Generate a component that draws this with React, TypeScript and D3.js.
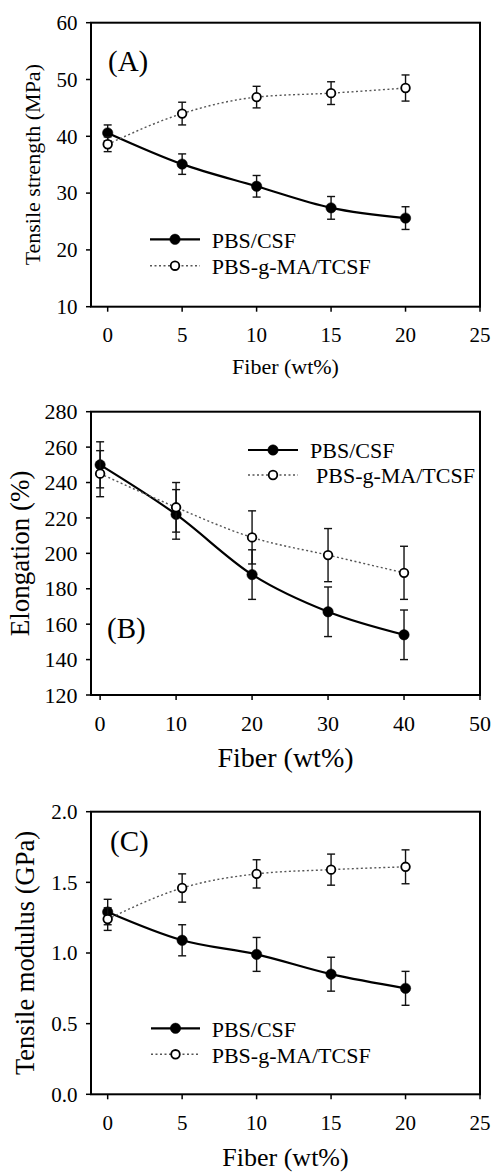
import React, { useEffect, useRef } from "react";
import * as d3 from "d3";

// fiber loadings (wt%)
const fiberAC = [0, 5, 10, 15, 20];
const fiberB = [0, 10, 20, 30, 40];

const seriesNames = ["PBS/CSF", "PBS-g-MA/TCSF"];

// (A) tensile strength, MPa
const strengthCSF = [40.6, 35.1, 31.2, 27.4, 25.6];
const strengthCSFErr = [1.4, 1.8, 1.9, 2.0, 2.0];
const strengthTCSF = [38.6, 44.0, 46.9, 47.6, 48.5];
const strengthTCSFErr = [1.3, 2.0, 1.9, 2.0, 2.3];

// (B) elongation, %
const elongCSF = [250, 222, 188, 167, 154];
const elongCSFErr = [13, 14, 14, 14, 14];
const elongTCSF = [245, 226, 209, 199, 189];
const elongTCSFErr = [13, 14, 15, 15, 15];

// (C) tensile modulus, GPa
const modulusCSF = [1.29, 1.09, 0.99, 0.85, 0.75];
const modulusCSFErr = [0.09, 0.11, 0.12, 0.12, 0.12];
const modulusTCSF = [1.24, 1.46, 1.56, 1.59, 1.61];
const modulusTCSFErr = [0.08, 0.1, 0.1, 0.11, 0.12];

const xTicksAC = [0, 5, 10, 15, 20, 25];
const xTicksB = [0, 10, 20, 30, 40, 50];
const yTicksA = [10, 20, 30, 40, 50, 60];
const yTicksB = [120, 140, 160, 180, 200, 220, 240, 260, 280];
const yTicksC = [0, 0.5, 1.0, 1.5, 2.0];

const FONT = "'Liberation Serif', 'Times New Roman', serif";

const App = () => {
  const ref = useRef();

  useEffect(() => {
    const svg = d3.select(ref.current);
    svg.selectAll("*").remove();

    const left = 91;
    const right = 480;

    const panels = [
      {
        top: 22.7, bottom: 306.7, xDomain: [-1.12, 25], yDomain: [10, 60],
        xTicks: xTicksAC, yTicks: yTicksA, fmt: d3.format("d"), tickFont: 21,
        x: fiberAC, s1: strengthCSF, e1: strengthCSFErr, s2: strengthTCSF, e2: strengthTCSFErr,
        tag: "(A)", tagX: 108, tagY: 71,
        yTitle: "Tensile strength (MPa)", yTitleSize: 22, yTitleX: 40,
        xTitleSize: 22, xTitleY: 374,
        legRows: [239.3, 265.7], legX0: 150, legX1: 200, legText: [211.7, 211.7], legFont: 22,
      },
      {
        top: 411.7, bottom: 695, xDomain: [-1.2, 50], yDomain: [120, 280],
        xTicks: xTicksB, yTicks: yTicksB, fmt: d3.format("d"), tickFont: 22,
        x: fiberB, s1: elongCSF, e1: elongCSFErr, s2: elongTCSF, e2: elongTCSFErr,
        tag: "(B)", tagX: 107, tagY: 638,
        yTitle: "Elongation (%)", yTitleSize: 27, yTitleX: 29,
        xTitleSize: 28, xTitleY: 767,
        legRows: [450, 475], legX0: 248, legX1: 298, legText: [310, 316], legFont: 22,
      },
      {
        top: 811.7, bottom: 1094.3, xDomain: [-1.12, 25], yDomain: [0, 2],
        xTicks: xTicksAC, yTicks: yTicksC, fmt: d3.format(".1f"), tickFont: 21,
        x: fiberAC, s1: modulusCSF, e1: modulusCSFErr, s2: modulusTCSF, e2: modulusTCSFErr,
        tag: "(C)", tagX: 110, tagY: 851,
        yTitle: "Tensile modulus (GPa)", yTitleSize: 26.5, yTitleX: 34,
        xTitleSize: 26, xTitleY: 1166,
        legRows: [1028.3, 1054.3], legX0: 151, legX1: 200, legText: [211.7, 211.7], legFont: 22,
      },
    ];

    panels.forEach((p) => {
      const x = d3.scaleLinear().domain(p.xDomain).range([left, right]);
      const y = d3.scaleLinear().domain(p.yDomain).range([p.bottom, p.top]);
      const g = svg.append("g");

      // ticks
      g.selectAll(".xt")
        .data(p.xTicks)
        .join("line")
        .attr("x1", (d) => x(d))
        .attr("x2", (d) => x(d))
        .attr("y1", p.bottom)
        .attr("y2", p.bottom + 5)
        .attr("stroke", "#000")
        .attr("stroke-width", 1.5);
      g.selectAll(".xl")
        .data(p.xTicks)
        .join("text")
        .attr("x", (d) => x(d))
        .attr("y", p.bottom + 35.5)
        .attr("text-anchor", "middle")
        .style("font-family", FONT)
        .style("font-size", `${p.tickFont}px`)
        .text((d) => d);
      g.selectAll(".yt")
        .data(p.yTicks)
        .join("line")
        .attr("x1", left - 5)
        .attr("x2", left)
        .attr("y1", (d) => y(d))
        .attr("y2", (d) => y(d))
        .attr("stroke", "#000")
        .attr("stroke-width", 1.5);
      g.selectAll(".yl")
        .data(p.yTicks)
        .join("text")
        .attr("x", 77.5)
        .attr("y", (d) => y(d))
        .attr("dy", "0.35em")
        .attr("text-anchor", "end")
        .style("font-family", FONT)
        .style("font-size", `${p.tickFont}px`)
        .text((d) => p.fmt(d));

      // frame
      g.append("rect")
        .attr("x", left)
        .attr("y", p.top)
        .attr("width", right - left)
        .attr("height", p.bottom - p.top)
        .attr("fill", "none")
        .attr("stroke", "#000")
        .attr("stroke-width", 2);

      // titles
      g.append("text")
        .attr("transform", `translate(${p.yTitleX},${(p.top + p.bottom) / 2}) rotate(-90)`)
        .attr("text-anchor", "middle")
        .style("font-family", FONT)
        .style("font-size", `${p.yTitleSize}px`)
        .text(p.yTitle);
      g.append("text")
        .attr("x", (left + right) / 2)
        .attr("y", p.xTitleY)
        .attr("text-anchor", "middle")
        .style("font-family", FONT)
        .style("font-size", `${p.xTitleSize}px`)
        .text("Fiber (wt%)");
      g.append("text")
        .attr("x", p.tagX)
        .attr("y", p.tagY)
        .style("font-family", FONT)
        .style("font-size", "29px")
        .text(p.tag);

      const line = d3
        .line()
        .x((d) => x(d[0]))
        .y((d) => y(d[1]))
        .curve(d3.curveMonotoneX);

      const series = [
        { vals: p.s1, errs: p.e1, solid: true },
        { vals: p.s2, errs: p.e2, solid: false },
      ];

      // connecting lines
      series.forEach((s) => {
        g.append("path")
          .attr("d", line(p.x.map((v, i) => [v, s.vals[i]])))
          .attr("fill", "none")
          .attr("stroke", s.solid ? "#000" : "#555")
          .attr("stroke-width", s.solid ? 2.2 : 1.4)
          .attr("stroke-dasharray", s.solid ? null : "2,2.5");
      });

      // error bars and markers
      series.forEach((s) => {
        const pts = p.x.map((v, i) => ({ x: v, y: s.vals[i], e: s.errs[i] }));
        const eb = g.append("g").attr("stroke", "#111").attr("stroke-width", 1.4);
        pts.forEach((d) => {
          eb.append("line")
            .attr("x1", x(d.x)).attr("x2", x(d.x))
            .attr("y1", y(d.y - d.e)).attr("y2", y(d.y + d.e));
          [d.y - d.e, d.y + d.e].forEach((v) => {
            eb.append("line")
              .attr("x1", x(d.x) - 4).attr("x2", x(d.x) + 4)
              .attr("y1", y(v)).attr("y2", y(v));
          });
        });
        g.selectAll(null)
          .data(pts)
          .join("circle")
          .attr("cx", (d) => x(d.x))
          .attr("cy", (d) => y(d.y))
          .attr("r", s.solid ? 5.2 : 4.3)
          .attr("fill", s.solid ? "#000" : "#fff")
          .attr("stroke", "#000")
          .attr("stroke-width", s.solid ? 0.5 : 1.8);
      });

      // legend
      series.forEach((s, i) => {
        const ry = p.legRows[i];
        g.append("line")
          .attr("x1", p.legX0)
          .attr("x2", p.legX1)
          .attr("y1", ry)
          .attr("y2", ry)
          .attr("stroke", s.solid ? "#000" : "#555")
          .attr("stroke-width", s.solid ? 2.2 : 1.4)
          .attr("stroke-dasharray", s.solid ? null : "2,2.5");
        g.append("circle")
          .attr("cx", (p.legX0 + p.legX1) / 2)
          .attr("cy", ry)
          .attr("r", s.solid ? 5.2 : 4.3)
          .attr("fill", s.solid ? "#000" : "#fff")
          .attr("stroke", "#000")
          .attr("stroke-width", s.solid ? 0.5 : 1.8);
        g.append("text")
          .attr("x", p.legText[i])
          .attr("y", ry)
          .attr("dy", "0.38em")
          .style("font-family", FONT)
          .style("font-size", `${p.legFont}px`)
          .text(seriesNames[i]);
      });
    });
  }, []);

  return (
    <svg
      ref={ref}
      width={492}
      height={1172}
      style={{ position: "absolute", left: 0, top: 0, background: "#fff" }}
    ></svg>
  );
};

export default App;
